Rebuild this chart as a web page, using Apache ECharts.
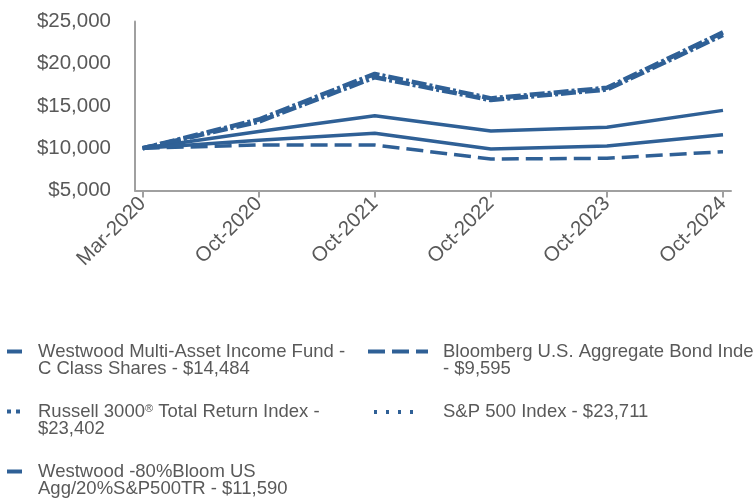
<!DOCTYPE html>
<html>
<head>
<meta charset="utf-8">
<script src="https://cdn.jsdelivr.net/npm/echarts@6/dist/echarts.min.js"></script>
<style>html,body{margin:0;padding:0;background:#fff}#c{width:753px;height:500px}</style>
</head>
<body>
<div id="c"></div>
<script>
const categories = ['Mar-2020', 'Oct-2020', 'Oct-2021', 'Oct-2022', 'Oct-2023', 'Oct-2024'];
const yTicks = [5000, 10000, 15000, 20000, 25000];
const fundName = 'Westwood Multi-Asset Income Fund - C Class Shares';
const bbgName = 'Bloomberg U.S. Aggregate Bond Index';
const russellName = 'Russell 3000 Total Return Index';
const spName = 'S&P 500 Index';
const blendName = 'Westwood -80%Bloom US Agg/20%S&P500TR';
const fundValues = [10000, 11980, 13850, 12040, 12480, 14484];
const bbgValues = [10000, 10390, 10380, 8730, 8810, 9595];
const russellValues = [10000, 13150, 18400, 15700, 16950, 23402];
const spValues = [10000, 13400, 18800, 15900, 17150, 23711];
const blendValues = [10000, 10950, 11770, 9910, 10280, 11590];

const legendText = {};
legendText[fundName] = 'Westwood Multi-Asset Income Fund -\nC Class Shares - $14,484';
legendText[bbgName] = 'Bloomberg U.S. Aggregate Bond Index\n- $9,595';
legendText[russellName] = 'Russell 3000{sup|®} Total Return Index -\n$23,402';
legendText[spName] = 'S&P 500 Index - $23,711';
legendText[blendName] = 'Westwood -80%Bloom US\nAgg/20%S&P500TR - $11,590';

const blue = '#2f6096';
const gray = '#595959';
const font = "'Liberation Sans', Arial, sans-serif";

function pts(arr) { return arr.map((v, i) => [i, v]); }
function mkSeries(name, arr, type, width, offset) {
  return {
    name: name, type: 'line', data: pts(arr), symbol: 'none', showSymbol: false,
    lineStyle: { color: blue, width: width, type: type, cap: 'butt', dashOffset: offset || 0 },
    itemStyle: { color: blue }, emphasis: { disabled: true }, animation: false
  };
}
function mkLegend(name, left, top, itemWidth, padLeft, padTop, legendDash) {
  return {
    data: [name], left: left, top: top, orient: 'vertical', padding: 0,
    itemWidth: itemWidth, itemHeight: 14, selectedMode: false,
    itemStyle: { color: 'rgba(0,0,0,0)', borderColor: 'rgba(0,0,0,0)', borderWidth: 0 },
    lineStyle: { type: legendDash, width: 4, color: blue, cap: 'butt' },
    formatter: n => legendText[n],
    textStyle: {
      color: gray, fontSize: 18.5, lineHeight: 17, fontFamily: font,
      padding: [padTop, 0, 0, padLeft],
      rich: { sup: { fontSize: 11, lineHeight: 12, verticalAlign: 'top', color: gray, fontFamily: font } }
    }
  };
}

const chart = echarts.init(document.getElementById('c'), null, { renderer: 'canvas' });
chart.setOption({
  backgroundColor: '#fff',
  animation: false,
  grid: { left: 135, right: 22, top: 21.5, bottom: 309.5, containLabel: false },
  xAxis: {
    type: 'value', min: -0.066, max: 5.069,
    splitLine: { show: false },
    axisLine: { show: true, onZero: false, lineStyle: { color: '#a0a0a0', width: 2 } },
    axisTick: { show: true, length: 7, lineStyle: { color: '#a0a0a0', width: 2 }, customValues: categories.map((c, i) => i) },
    axisLabel: {
      customValues: categories.map((c, i) => i),
      formatter: v => categories[Math.round(v)],
      rotate: 45, fontSize: 20.5, color: gray, fontFamily: font, margin: 10
    }
  },
  yAxis: {
    type: 'value', min: yTicks[0], max: yTicks[yTicks.length - 1], interval: 5000,
    splitLine: { show: false },
    axisLine: { show: true, onZero: false, lineStyle: { color: '#a0a0a0', width: 2 } },
    axisTick: { show: false },
    axisLabel: {
      formatter: v => '$' + v.toLocaleString('en-US'),
      fontSize: 20.5, color: gray, fontFamily: font, margin: 24
    }
  },
  legend: [
    mkLegend(fundName, 5, 326, 15, 11, 17, 'solid'),
    mkLegend(bbgName, 366, 326, 60, 10, 17, [17, 7]),
    mkLegend(russellName, 5, 386, 16, 10, 17, [4, 5]),
    mkLegend(spName, 366, 402.5, 51, 19, 0, [3, 9]),
    mkLegend(blendName, 5, 446, 15, 11, 17, 'solid')
  ],
  series: [
    mkSeries(fundName, fundValues, 'solid', 3.5),
    mkSeries(bbgName, bbgValues, [17, 7], 3.5),
    mkSeries(russellName, russellValues, [15, 3, 3, 3], 4.5, 0),
    mkSeries(spName, spValues, [15, 3, 3, 3], 4.5, 6),
    mkSeries(blendName, blendValues, 'solid', 3.5)
  ]
});
</script>
</body>
</html>
